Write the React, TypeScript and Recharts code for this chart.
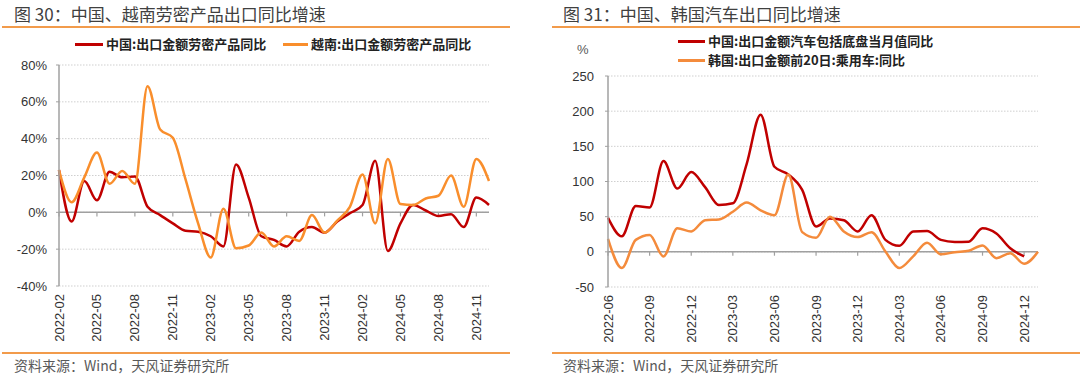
import { LineChart, Line, XAxis, YAxis, CartesianGrid, ReferenceLine } from "recharts"

// 图30 data
const laborMonths = [
  "2022-02", "2022-03", "2022-04", "2022-05", "2022-06", "2022-07", "2022-08", "2022-09", "2022-10", "2022-11", "2022-12",
  "2023-01", "2023-02", "2023-03", "2023-04", "2023-05", "2023-06", "2023-07", "2023-08", "2023-09", "2023-10", "2023-11", "2023-12",
  "2024-01", "2024-02", "2024-03", "2024-04", "2024-05", "2024-06", "2024-07", "2024-08", "2024-09", "2024-10", "2024-11", "2024-12"
]
const cnLabor = [23, -5, 17, 6.5, 22, 19, 19.5, 3, -1.5, -6, -10, -10.5, -13, -18.5, 26, 8, -13, -15, -18.5, -10.5, -8, -11, -5, -0.5, 4, 28, -21, -6, 4, 1, -2, -1, -8, 8, 4]
const vnLabor = [23, 5.5, 19, 32.5, 15.5, 22.5, 15.5, 68.5, 45, 40.5, 18, -6, -24.5, 2, -19.5, -18, -11, -18.5, -13, -15.5, -1.5, -11, -4.5, 3, 20.5, -6, 29, 4.5, 4, 7.5, 9, 20, 3, 29, 17]
const laborTicks = [-40, -20, 0, 20, 40, 60, 80]

// 图31 data
const autoMonths = [
  "2022-06", "2022-07", "2022-08", "2022-09", "2022-10", "2022-11", "2022-12",
  "2023-01", "2023-02", "2023-03", "2023-04", "2023-05", "2023-06", "2023-07", "2023-08", "2023-09", "2023-10", "2023-11", "2023-12",
  "2024-01", "2024-02", "2024-03", "2024-04", "2024-05", "2024-06", "2024-07", "2024-08", "2024-09", "2024-10", "2024-11", "2024-12", "2025-01"
]
const cnAuto = [48.5, 22, 65, 63, 129, 90, 113.5, 92, 66.5, 69, 125, 195, 121, 110, 88, 36, 47.5, 45, 29, 52, 17, 8.5, 29, 29.5, 17, 14, 14.5, 33.5, 26, 5, -6.5, null]
const krAuto = [18.5, -23, 17, 24, -6.5, 33.5, 29, 45, 46, 57, 70, 59, 52, 110, 28, 20, 50, 29, 21, 28, 0.5, -23, -6.5, 13, -3.5, -0.5, 1.5, 9, -9, -2, -17, 0]
const autoTicks = [-50, 0, 50, 100, 150, 200, 250]

const laborData = laborMonths.map((m, i) => ({ month: m, cn: cnLabor[i], vn: vnLabor[i] }))
const autoData = autoMonths.map((m, i) => ({ month: m, cn: cnAuto[i], kr: krAuto[i] }))

const RED = "#C00000"
const ORANGE = "#F98E2C"
const ORANGE2 = "#F48B3C"
const RULE = "#F29B4B"
const GRID = "#cfcfcf"
const AXIS = "#a0a0a0"
const FONT = "'Liberation Sans', Arial, sans-serif"
const CJK = "'Noto Sans CJK SC', 'Noto Sans', sans-serif"

const RotTick = (props: any) => {
  const { x, y, payload } = props
  return (
    <text
      x={x}
      y={y}
      transform={`rotate(-90 ${x} ${y})`}
      textAnchor="end"
      dominantBaseline="central"
      fontSize={13}
      fontFamily={FONT}
      fill="#333"
    >
      {payload.value}
    </text>
  )
}

const abs = (left: number, top: number, extra: any = {}) => ({
  position: "absolute" as const,
  left,
  top,
  ...extra
})

const legendText = { fontFamily: CJK, fontSize: 13, fontWeight: 700, color: "#222", whiteSpace: "nowrap" as const, lineHeight: "16px" }
const titleText = { fontFamily: CJK, fontSize: 17, color: "#404040", lineHeight: "22px", whiteSpace: "nowrap" as const }
const sourceText = { fontFamily: CJK, fontSize: 14, color: "#595959", lineHeight: "18px", whiteSpace: "nowrap" as const }

export default function App() {
  return (
    <div style={{ position: "absolute", left: 0, top: 0, width: 1080, height: 377, background: "#fff", overflow: "hidden" }}>
      {/* titles and rules */}
      <div style={abs(14, 3, titleText)}>图 30：中国、越南劳密产品出口同比增速</div>
      <div style={abs(563, 3, titleText)}>图 31：中国、韩国汽车出口同比增速</div>
      <div style={abs(2, 26, { width: 508, height: 2, background: RULE })} />
      <div style={abs(552, 26, { width: 528, height: 2, background: RULE })} />
      <div style={abs(2, 352, { width: 508, height: 2, background: RULE })} />
      <div style={abs(552, 352, { width: 528, height: 2, background: RULE })} />
      <div style={abs(14, 356, sourceText)}>资料来源：Wind，天风证券研究所</div>
      <div style={abs(563, 356, sourceText)}>资料来源：Wind，天风证券研究所</div>

      {/* legends */}
      <div style={abs(75, 43, { width: 28, height: 3, background: RED })} />
      <div style={abs(106, 36, legendText)}>中国:出口金额劳密产品同比</div>
      <div style={abs(283, 43, { width: 25, height: 3, background: ORANGE })} />
      <div style={abs(311, 36, legendText)}>越南:出口金额劳密产品同比</div>

      <div style={abs(678, 40, { width: 27, height: 3, background: RED })} />
      <div style={abs(708, 33, legendText)}>中国:出口金额汽车包括底盘当月值同比</div>
      <div style={abs(678, 59, { width: 27, height: 3, background: ORANGE2 })} />
      <div style={abs(708, 52, legendText)}>韩国:出口金额前20日:乘用车:同比</div>
      <div style={abs(577, 42, { fontFamily: FONT, fontSize: 13, color: "#595959" })}>%</div>

      {/* left chart */}
      <div style={abs(0, 0)}>
        <LineChart width={540} height={377} data={laborData} margin={{ top: 65, right: 51, bottom: 31, left: 0 }}>
          <CartesianGrid vertical={false} stroke={GRID} strokeDasharray="1.5 1.5" />
          <XAxis
            dataKey="month"
            interval={2}
            height={60}
            axisLine={false}
            tickLine={false}
            tickSize={0}
            tickMargin={8}
            tick={<RotTick />}
          />
          <YAxis
            width={59}
            domain={[-40, 80]}
            ticks={laborTicks}
            tickFormatter={(v: number) => `${v}%`}
            axisLine={{ stroke: AXIS, strokeWidth: 1.5 }}
            tickLine={{ stroke: AXIS }}
            tickSize={3}
            tickMargin={9}
            tick={{ fontSize: 13, fontFamily: FONT, fill: "#333" }}
          />
          <ReferenceLine y={0} stroke={AXIS} strokeWidth={1.5} />
          {laborMonths.filter((_, i) => i % 3 === 0).map((m) => (
            <ReferenceLine key={m} segment={[{ x: m, y: 0 }, { x: m, y: -2.2 }]} stroke={AXIS} strokeWidth={1.2} />
          ))}
          <Line type="monotone" dataKey="cn" stroke={RED} strokeWidth={2.5} dot={false} isAnimationActive={false} />
          <Line type="monotone" dataKey="vn" stroke={ORANGE} strokeWidth={2.5} dot={false} isAnimationActive={false} />
        </LineChart>
      </div>

      {/* right chart */}
      <div style={abs(540, 0)}>
        <LineChart width={540} height={377} data={autoData} margin={{ top: 76, right: 42, bottom: 30, left: 0 }}>
          <CartesianGrid vertical={false} stroke={GRID} strokeDasharray="1.5 1.5" />
          <XAxis
            dataKey="month"
            interval={2}
            height={60}
            axisLine={false}
            tickLine={false}
            tickSize={0}
            tickMargin={8}
            tick={<RotTick />}
          />
          <YAxis
            width={68}
            domain={[-50, 250]}
            ticks={autoTicks}
            axisLine={{ stroke: AXIS, strokeWidth: 1.5 }}
            tickLine={{ stroke: AXIS }}
            tickSize={3}
            tickMargin={11}
            tick={{ fontSize: 13, fontFamily: FONT, fill: "#333" }}
          />
          <ReferenceLine y={0} stroke={AXIS} strokeWidth={1.5} />
          {autoMonths.filter((_, i) => i % 3 === 0).map((m) => (
            <ReferenceLine key={m} segment={[{ x: m, y: 0 }, { x: m, y: -5.5 }]} stroke={AXIS} strokeWidth={1.2} />
          ))}
          <Line type="monotone" dataKey="cn" stroke={RED} strokeWidth={2.5} dot={false} isAnimationActive={false} />
          <Line type="monotone" dataKey="kr" stroke={ORANGE2} strokeWidth={2.5} dot={false} isAnimationActive={false} />
        </LineChart>
      </div>
    </div>
  )
}
